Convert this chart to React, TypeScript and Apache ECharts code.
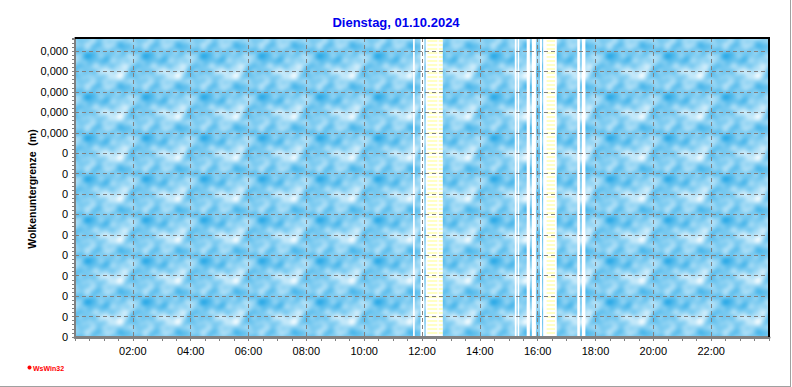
import React, { useEffect, useRef } from 'react';
import * as echarts from 'echarts';

const titleText = 'Dienstag, 01.10.2024';
const yAxisName = 'Wolkenuntergrenze  (m)';
const logoText = 'WsWin32';
// y tick labels, bottom to top
const yTickLabels = ['0', '0', '0', '0', '0', '0', '0', '0', '0', '0', '0,000', '0,000', '0,000', '0,000', '0,000'];
const yMax = 14.64;
const xMin = 0;
const xMax = 24;
// gaps in the record (hours of day); kind: 'none' = no data, 'partial' = incomplete
const gapStart = [11.69, 11.95, 12.13, 12.19, 12.53, 12.58, 15.21, 15.31, 15.62, 15.80, 16.08, 16.19, 16.31, 16.60, 17.37, 17.53];
const gapEnd = [11.75, 12.08, 12.19, 12.53, 12.58, 12.72, 15.27, 15.36, 15.73, 15.94, 16.15, 16.31, 16.60, 16.66, 17.46, 17.65];
const gapKind = ['none', 'none', 'none', 'partial', 'none', 'partial', 'none', 'none', 'none', 'none', 'none', 'none', 'partial', 'none', 'none', 'none'];

function makeSkyCanvas() {
  const W = 58, H = 41;
  const c = document.createElement('canvas');
  c.width = W; c.height = H;
  const ctx = c.getContext('2d')!;
  const img = ctx.createImageData(W, H);
  const terms = [
    [1, 0, 0.22, 0.0], [0, 1, 0.26, 1.3], [1, 1, 0.22, 2.1], [2, 1, 0.20, 0.7],
    [1, -2, 0.18, 4.0], [3, 2, 0.14, 1.5], [2, -3, 0.12, 3.3], [4, 1, 0.09, 5.1],
    [3, -1, 0.11, 2.6], [5, 3, 0.06, 0.4], [6, -2, 0.05, 1.9], [2, 5, 0.05, 4.4],
  ];
  const vals: number[] = [];
  let mn = Infinity, mx = -Infinity;
  for (let y = 0; y < H; y++) {
    for (let x = 0; x < W; x++) {
      let v = 0;
      for (const [kx, ky, a, p] of terms) v += a * Math.cos(2 * Math.PI * (kx * x / W + ky * y / H) + p);
      vals.push(v);
      if (v < mn) mn = v;
      if (v > mx) mx = v;
    }
  }
  const dark = [50, 172, 231];
  const light = [232, 247, 254];
  for (let i = 0; i < vals.length; i++) {
    let t = (vals[i] - mn) / (mx - mn);
    t = Math.pow(t, 1.05);
    img.data[i * 4] = Math.round(dark[0] + (light[0] - dark[0]) * t);
    img.data[i * 4 + 1] = Math.round(dark[1] + (light[1] - dark[1]) * t);
    img.data[i * 4 + 2] = Math.round(dark[2] + (light[2] - dark[2]) * t);
    img.data[i * 4 + 3] = 255;
  }
  ctx.putImageData(img, 0, 0);
  return { canvas: c, w: W, h: H };
}

function makeStripeCanvas() {
  const c = document.createElement('canvas');
  c.width = 4; c.height = 4;
  const ctx = c.getContext('2d')!;
  ctx.fillStyle = '#ffffff';
  ctx.fillRect(0, 0, 4, 4);
  ctx.fillStyle = '#ffffc4';
  ctx.fillRect(0, 0, 4, 2);
  return { canvas: c, w: 4, h: 4 };
}

function pad2(n: number) {
  return (n < 10 ? '0' : '') + n;
}

export default function App() {
  const ref = useRef<HTMLDivElement>(null);
  useEffect(() => {
    if (!ref.current) return;
    const chart = echarts.init(ref.current, null, { renderer: 'svg' });
    const sky = makeSkyCanvas();
    const stripe = makeStripeCanvas();
    const skyPattern = { image: sky.canvas.toDataURL(), imageWidth: sky.w, imageHeight: sky.h, repeat: 'repeat' };
    const stripePattern = { image: stripe.canvas.toDataURL(), imageWidth: stripe.w, imageHeight: stripe.h, repeat: 'repeat' };

    // build segments: sky where data present, stripes where partial
    const segs: any[] = [];
    let cur = xMin;
    for (let i = 0; i < gapStart.length; i++) {
      if (gapStart[i] > cur) segs.push([cur, gapStart[i], 1]);
      if (gapKind[i] === 'partial') segs.push([gapStart[i], gapEnd[i], 2]);
      cur = gapEnd[i];
    }
    if (cur < xMax) segs.push([cur, xMax, 1]);

    const grey = '#808080';
    const gl = 75, gr = 769, gt = 38, gb = 337;
    chart.setOption({
      animation: false,
      grid: { left: gl, right: 792 - gr, top: gt, bottom: 387 - gb, show: false },
      graphic: [
        {
          type: 'text', left: 'center', top: 16, z: 10,
          style: { text: titleText, fill: '#0000ee', font: 'bold 13px "Liberation Sans Narrow", "Liberation Sans", sans-serif' },
        },
        {
          type: 'text', x: 32, y: 189, rotation: Math.PI / 2, z: 10,
          style: {
            text: yAxisName, fill: '#000', align: 'center', verticalAlign: 'middle',
            font: 'bold 10.5px "Liberation Sans", Arial, sans-serif',
          },
        },
        { type: 'line', shape: { x1: gl, y1: gt, x2: gr + 1, y2: gt }, style: { stroke: '#000', lineWidth: 2 }, z: 10 },
        { type: 'line', shape: { x1: gr, y1: gt, x2: gr, y2: gb }, style: { stroke: '#000', lineWidth: 2 }, z: 10 },
        { type: 'circle', shape: { cx: 29.5, cy: 367.5, r: 2 }, style: { fill: '#ff0000' }, z: 10 },
        {
          type: 'text', x: 33, y: 364.5, z: 10,
          style: { text: logoText, fill: '#ff0000', font: 'bold 7px "Liberation Sans", sans-serif' },
        },
        { type: 'line', shape: { x1: 790.5, y1: 0, x2: 790.5, y2: 386.5 }, style: { stroke: '#a0a0a0', lineWidth: 1 }, z: 10 },
        { type: 'line', shape: { x1: 0, y1: 386.5, x2: 791, y2: 386.5 }, style: { stroke: '#a0a0a0', lineWidth: 1 }, z: 10 },
      ],
      xAxis: {
        type: 'value', min: xMin, max: xMax, interval: 2, z: 3,
        axisLine: { show: true, lineStyle: { color: grey, width: 3 } },
        axisTick: { show: true, length: 4, lineStyle: { color: grey } },
        minorTick: { show: true, splitNumber: 4, length: 4, lineStyle: { color: grey } },
        splitLine: { show: true, lineStyle: { color: grey, type: [4, 3], width: 1 } },
        axisLabel: {
          color: '#000', fontSize: 11, fontFamily: '"Liberation Sans", Arial, sans-serif', margin: 8,
          formatter: (v: number) => (v > xMin && v < xMax ? pad2(v) + ':00' : ''),
        },
      },
      yAxis: {
        type: 'value', min: 0, max: yMax, interval: 1, z: 3,
        axisLine: { show: true, lineStyle: { color: grey, width: 2 } },
        axisTick: { show: true, length: 3, lineStyle: { color: grey } },
        minorTick: { show: true, splitNumber: 5, length: 3, lineStyle: { color: grey } },
        splitLine: { show: true, lineStyle: { color: grey, type: [4, 3], width: 1 } },
        axisLabel: {
          color: '#000', fontSize: 11, fontFamily: '"Liberation Sans", Arial, sans-serif', margin: 7, showMaxLabel: false,
          formatter: (v: number) => (Number.isInteger(v) && yTickLabels[v] !== undefined ? yTickLabels[v] : ''),
        },
      },
      series: [
        {
          type: 'custom', z: 1, silent: true,
          data: segs,
          encode: { x: [0, 1] },
          renderItem: (params: any, api: any) => {
            const s = api.value(0), e = api.value(1), k = api.value(2);
            const p1 = api.coord([s, yMax]);
            const p2 = api.coord([e, 0]);
            return {
              type: 'rect',
              shape: { x: p1[0], y: p1[1], width: p2[0] - p1[0], height: p2[1] - p1[1] },
              style: { fill: k === 1 ? skyPattern : stripePattern },
            };
          },
        },
      ],
    });
    return () => chart.dispose();
  }, []);
  return <div ref={ref} style={{ position: 'absolute', left: 0, top: 0, width: 792, height: 387 }} />;
}
